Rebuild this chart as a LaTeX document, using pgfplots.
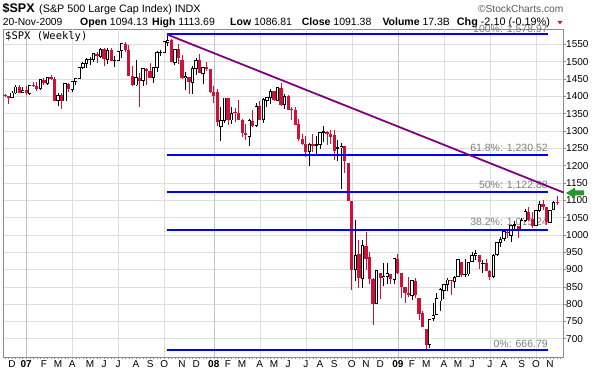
\documentclass[border=0pt]{standalone}
\usepackage{fontspec}
\setmainfont{Liberation Sans}
\newfontfamily\dejamono{DejaVu Sans Mono}
\usepackage{pgfplots}
\usepackage{pgfplotstable}
\pgfplotsset{compat=1.18}
\definecolor{cred}{RGB}{208,16,54}
\definecolor{fibblue}{RGB}{0,0,255}
\definecolor{tpurple}{RGB}{128,0,128}
\definecolor{agreen}{RGB}{40,150,40}
\definecolor{gridc}{RGB}{222,222,222}
\definecolor{yeargrid}{RGB}{195,195,195}
\definecolor{labgray}{RGB}{125,125,125}

\pgfplotstableread{
w o h l c
-4 1396.7 1415.3 1394.5 1409.8
-3 1409.8 1431.6 1408.3 1427.1
-1 1410.8 1427.7 1410.8 1418.3
1 1409.3 1431.2 1405.0 1430.7
4 1422.0 1449.3 1417.8 1448.4
6 1438.0 1456.6 1431.9 1455.5
9 1387.1 1410.2 1373.4 1402.8
11 1386.9 1437.7 1386.9 1436.1
13 1420.8 1445.2 1413.3 1443.8
14 1443.8 1453.1 1433.9 1452.9
15 1452.8 1484.7 1452.8 1484.4
16 1484.4 1498.0 1478.2 1494.1
17 1494.1 1510.3 1482.3 1505.6
18 1505.6 1513.8 1491.4 1505.9
19 1505.8 1522.8 1498.6 1522.8
21 1515.6 1540.6 1510.5 1536.3
23 1507.7 1538.7 1492.7 1532.9
25 1502.6 1517.5 1484.2 1503.4
26 1504.7 1532.4 1503.4 1530.4
27 1531.9 1555.1 1510.1 1552.5
31 1433.0 1503.9 1429.4 1453.6
33 1445.6 1479.4 1430.5 1479.4
36 1453.5 1485.4 1439.3 1484.3
37 1484.2 1530.0 1471.8 1525.8
38 1525.8 1533.7 1516.2 1526.8
39 1527.3 1561.3 1527.3 1557.6
40 1556.5 1579.0 1546.7 1561.8
42 1497.7 1535.3 1489.6 1535.3
45 1453.7 1470.1 1417.1 1458.7
47 1440.7 1488.9 1406.6 1481.1
48 1479.6 1510.6 1460.7 1504.7
50 1465.1 1485.4 1435.7 1484.5
55 1312.9 1368.6 1270.1 1330.6
56 1330.7 1396.0 1322.4 1395.4
58 1331.9 1370.0 1320.3 1350.0
63 1283.2 1334.0 1257.0 1329.5
65 1315.9 1380.9 1312.8 1370.4
67 1332.2 1395.9 1324.4 1390.3
68 1387.7 1399.1 1369.8 1397.8
69 1397.8 1422.7 1379.4 1413.9
71 1389.4 1425.9 1386.4 1425.4
73 1376.0 1406.3 1364.6 1400.4
80 1241.6 1266.3 1200.4 1260.7
82 1257.8 1284.8 1234.4 1260.3
83 1260.3 1297.8 1247.5 1296.3
84 1296.3 1313.2 1269.4 1298.2
88 1249.5 1274.4 1212.6 1251.7
89 1250.9 1265.1 1133.5 1255.1
93 899.2 1044.3 865.8 940.6
95 874.3 984.4 845.3 968.8
99 801.2 896.2 801.2 896.2
101 876.1 918.9 851.4 879.7
102 881.1 918.9 857.7 887.9
104 872.4 934.7 857.3 931.8
109 825.4 870.8 812.9 868.6
114 684.0 758.3 672.9 756.6
115 758.8 804.5 751.5 768.5
116 771.0 833.0 771.0 815.9
117 809.1 845.6 779.8 842.5
118 839.8 856.9 814.5 856.6
119 856.9 875.6 836.9 869.6
121 866.2 880.4 847.1 877.5
122 879.2 930.2 879.2 929.2
124 886.1 930.2 879.6 887.0
125 887.0 920.0 881.5 919.1
126 923.3 951.7 923.3 940.1
127 940.3 956.2 926.1 946.2
129 918.1 927.1 888.9 918.9
132 879.6 944.0 875.3 940.4
133 942.1 979.8 940.4 979.3
134 978.6 993.2 966.0 987.5
135 990.2 1018.0 983.8 1010.5
137 998.2 1027.6 978.5 1026.1
138 1026.6 1039.5 1016.2 1028.9
140 1016.4 1048.2 1016.4 1042.7
141 1040.5 1074.8 1036.3 1068.3
144 1026.9 1071.5 1026.9 1071.5
145 1071.6 1096.6 1066.4 1087.7
148 1036.2 1071.0 1033.4 1069.3
149 1072.3 1097.6 1072.3 1093.5
}\upT

\pgfplotstableread{
w o h l c
-6 1401.5 1407.9 1398.2 1400.95
-5 1400.9 1402.5 1377.8 1396.7
-2 1427.1 1431.8 1410.3 1410.8
0 1418.3 1429.4 1403.9 1409.7
2 1430.9 1441.6 1426.5 1430.5
3 1430.5 1440.7 1416.0 1422.2
5 1448.3 1452.0 1433.4 1438.1
7 1455.5 1461.6 1448.2 1451.2
8 1451.0 1456.9 1386.3 1387.2
10 1402.8 1409.8 1364.0 1387.0
12 1436.1 1438.1 1412.0 1420.9
20 1522.8 1529.3 1496.0 1515.7
22 1536.3 1539.1 1487.4 1507.7
24 1532.9 1540.0 1502.5 1502.6
28 1552.5 1555.9 1529.2 1534.1
29 1534.1 1547.2 1458.8 1459.0
30 1458.9 1488.3 1430.0 1433.1
32 1453.4 1466.3 1370.6 1445.9
34 1479.4 1481.5 1432.0 1474.0
35 1473.9 1496.4 1453.5 1453.6
41 1562.0 1564.7 1500.0 1500.6
43 1536.0 1552.8 1492.9 1509.7
44 1505.6 1520.8 1450.0 1453.7
46 1456.7 1456.7 1406.1 1440.7
49 1505.1 1523.6 1467.8 1468.0
51 1484.9 1498.9 1474.0 1478.5
52 1478.5 1478.5 1411.2 1411.6
53 1414.1 1429.3 1380.9 1401.0
54 1411.9 1420.4 1313.9 1325.2
57 1395.4 1395.4 1316.8 1331.3
59 1355.9 1367.9 1326.2 1353.1
60 1352.8 1388.3 1330.6 1330.6
61 1330.5 1335.1 1283.0 1293.4
62 1293.2 1321.7 1272.7 1288.1
64 1330.0 1359.7 1312.8 1315.2
66 1373.7 1386.7 1331.8 1332.8
70 1415.3 1415.3 1386.1 1388.3
72 1425.3 1440.2 1373.1 1375.9
74 1400.1 1404.1 1359.9 1360.7
75 1360.8 1370.6 1331.3 1360.0
76 1360.0 1370.6 1317.2 1317.9
77 1319.8 1335.6 1272.0 1278.4
78 1278.1 1290.7 1261.0 1262.9
79 1262.9 1285.7 1225.4 1239.5
81 1261.8 1291.2 1238.5 1257.8
85 1298.1 1300.2 1261.1 1292.2
86 1292.2 1303.0 1262.8 1282.8
87 1287.8 1303.0 1217.2 1242.3
90 1255.4 1255.5 1180.1 1213.3
91 1209.1 1209.1 1097.6 1099.2
92 1097.6 1097.6 839.8 899.2
94 943.8 985.4 845.3 876.8
96 968.7 1007.5 899.7 931.0
97 936.8 951.4 859.3 873.3
98 873.2 875.2 741.0 800.0
100 888.6 888.6 815.7 876.1
103 887.2 887.4 857.1 872.8
105 929.2 943.9 888.3 890.4
106 890.4 890.4 817.0 850.1
107 849.6 849.6 804.5 832.0
108 832.5 877.9 821.7 825.9
110 868.2 875.0 818.4 826.8
111 818.6 818.6 754.3 770.1
112 773.3 780.1 734.5 735.1
113 729.6 729.6 666.8 683.4
120 868.3 868.3 826.8 866.2
123 923.0 923.0 878.9 882.9
128 942.5 942.5 902.6 921.2
130 919.9 930.0 896.4 896.4
131 894.3 898.7 869.3 879.1
136 1008.9 1013.1 991.4 1004.1
139 1025.2 1025.2 992.0 1016.4
142 1067.1 1080.2 1041.2 1044.4
143 1045.4 1065.0 1020.0 1025.2
146 1088.0 1101.4 1070.5 1079.6
147 1080.4 1081.1 1029.4 1036.2
150 1094.1 1113.7 1086.8 1091.4
}\dnT

\begin{document}
\begin{tikzpicture}[x=1pt,y=1pt]
\path[use as bounding box] (0,0) rectangle (595,-374);
% header
\node[anchor=base west, inner sep=0, font=\fontsize{12.5}{12.5}\selectfont\bfseries] at (2.5,-13) {\$SPX};
\node[anchor=base west, inner sep=0, font=\fontsize{10.8}{10.8}\selectfont] at (39,-13) {(S\&P 500 Large Cap Index) INDX};
\node[anchor=base east, inner sep=0, font=\fontsize{10.2}{10.2}\selectfont, text=black!65] at (563.5,-12.7) {\textcopyright StockCharts.com};
\node[anchor=base west, inner sep=0, font=\fontsize{10.3}{10.3}\selectfont] at (2.7,-25.8) {20-Nov-2009};
\node[anchor=base west, inner sep=0, font=\fontsize{10.5}{10.5}\selectfont] at (80,-25.8) {\textbf{Open} 1094.13};
\node[anchor=base west, inner sep=0, font=\fontsize{10.5}{10.5}\selectfont] at (152,-25.8) {\textbf{High} 1113.69};
\node[anchor=base west, inner sep=0, font=\fontsize{10.5}{10.5}\selectfont] at (230,-25.8) {\textbf{Low} 1086.81};
\node[anchor=base west, inner sep=0, font=\fontsize{10.5}{10.5}\selectfont] at (301.7,-25.8) {\textbf{Close} 1091.38};
\node[anchor=base west, inner sep=0, font=\fontsize{10.5}{10.5}\selectfont] at (382.3,-25.8) {\textbf{Volume} 17.3B};
\node[anchor=base west, inner sep=0, font=\fontsize{10.8}{10.8}\selectfont] at (456.7,-25.8) {\textbf{Chg} -2.10 (-0.19\%)};
\fill[cred] (557.3,-20.8) -- (562.7,-20.8) -- (560,-24.3) -- cycle;

\begin{axis}[
  at={(3pt,-29.5pt)}, anchor=north west,
  scale only axis, width=560.5pt, height=328pt,
  xmin=-6.56, xmax=151.8, ymin=645.9, ymax=1593.3,
  axis line style={draw=black!45, line width=0.6pt},
  ytick={700,750,...,1550},
  yticklabel pos=right,
  ymajorgrids, major grid style={draw=gridc, line width=0.6pt},
  tick align=outside,
  y tick style={draw=black!45, line width=0.6pt},
  ytick pos=right,
  major tick length=2.5pt,
  minor tick length=2pt,
  yticklabel style={font=\fontsize{10}{10}\selectfont, inner sep=0pt, anchor=west,
    /pgf/number format/assume math mode=true, /pgf/number format/1000 sep={}},
  xtick={-4,0,5,9,13,18,22,26,31,35,39,44,48,53,57,61,66,70,74,79,83,87,92,96,100,105,109,113,118,122,126,131,135,140,144,148},
  xticklabels={D,\textbf{07},F,M,A,M,J,J,A,S,O,N,D,\textbf{08},F,M,A,M,J,J,A,S,O,N,D,\textbf{09},F,M,A,M,J,J,A,S,O,N},
  xticklabel style={font=\fontsize{10}{10}\selectfont, inner sep=0pt, anchor=north},
  x tick style={draw=none},
  xtick pos=bottom,
  minor xtick={-6,-5,...,151},
  minor x tick style={draw=black!45, line width=0.5pt},
  extra x ticks={0,13,26,39,53,66,79,92,105,118,131,144},
  extra x tick labels={},
  extra x tick style={grid=major, major grid style={draw=gridc, line width=0.6pt}, tick style={draw=none}},
  clip=false,
]
% year gridlines
\draw[yeargrid, line width=0.6pt] (axis cs:0,645.9) -- (axis cs:0,1593.3);
\draw[yeargrid, line width=0.6pt] (axis cs:53,645.9) -- (axis cs:53,1593.3);
\draw[yeargrid, line width=0.6pt] (axis cs:105,645.9) -- (axis cs:105,1593.3);

% Fibonacci labels (under candles)
\node[anchor=south east, inner sep=0, yshift=0.6pt, text=labgray, font=\fontsize{10.5}{10.5}\selectfont] at (axis cs:147.4,1578.97) {100\%: 1,578.97};
\node[anchor=south east, inner sep=0, yshift=2.5pt, text=labgray, font=\fontsize{10.5}{10.5}\selectfont] at (axis cs:147.4,1230.52) {61.8\%: 1,230.52};
\node[anchor=south east, inner sep=0, yshift=2.5pt, text=labgray, font=\fontsize{10.5}{10.5}\selectfont] at (axis cs:147.4,1122.88) {50\%: 1,122.88};
\node[anchor=south east, inner sep=0, yshift=2.5pt, text=labgray, font=\fontsize{10.5}{10.5}\selectfont] at (axis cs:147.4,1015.24) {38.2\%: 1,015.24};
\node[anchor=south east, inner sep=0, yshift=2.5pt, text=labgray, font=\fontsize{10.5}{10.5}\selectfont] at (axis cs:147.4,666.79) {0\%: 666.79};

% down candles: red wicks (low to high) and filled red bodies (close to open)
\addplot[cred, line width=0.85pt, line cap=butt, mark=none, -,
  quiver={u=0, v={\thisrow{h}-\thisrow{l}}}]
  table[x=w, y=l] {\dnT};
\addplot[cred, line width=3.2pt, line cap=butt, mark=none, -,
  quiver={u=0, v={max(\thisrow{o}-\thisrow{c},2.3)}}]
  table[x=w, y=c] {\dnT};
% up candles: black wicks, black outline, white hollow inside
\addplot[black, line width=0.85pt, line cap=butt, mark=none, -,
  quiver={u=0, v={\thisrow{h}-\thisrow{l}}}]
  table[x=w, y=l] {\upT};
\addplot[black, line width=3.4pt, line cap=butt, mark=none, -,
  quiver={u=0, v={\thisrow{c}-\thisrow{o}+2.6}}]
  table[x=w, y expr=\thisrow{o}-1.3] {\upT};
\addplot[white, line width=1.7pt, line cap=butt, mark=none, -,
  quiver={u=0, v={max(\thisrow{c}-\thisrow{o}-2.6,0)}}]
  table[x=w, y expr=\thisrow{o}+1.3] {\upT};

% Fibonacci retracement lines
\addplot[fibblue, line width=2pt, mark=none] coordinates {(39.8,1578.97) (147.4,1578.97)};
\addplot[fibblue, line width=2pt, mark=none] coordinates {(39.8,1230.52) (147.4,1230.52)};
\addplot[fibblue, line width=2pt, mark=none] coordinates {(39.8,1122.88) (147.4,1122.88)};
\addplot[fibblue, line width=2pt, mark=none] coordinates {(39.8,1015.24) (147.4,1015.24)};
\addplot[fibblue, line width=2pt, mark=none] coordinates {(39.8,666.79) (147.4,666.79)};
% trend line
\addplot[tpurple, line width=1.8pt, mark=none] coordinates {(39.8,1578.97) (151.8,1122.5)};
\end{axis}
\node[anchor=north west, inner sep=0, font=\dejamono\fontsize{10.5}{10.5}\selectfont] at (5,-31.5) {\$SPX (Weekly)};
\fill[agreen] (566,-193) -- (575,-187.5) -- (575,-190.5) -- (584,-190.5) -- (584,-195.5) -- (575,-195.5) -- (575,-198.5) -- cycle;
\end{tikzpicture}
\end{document}
